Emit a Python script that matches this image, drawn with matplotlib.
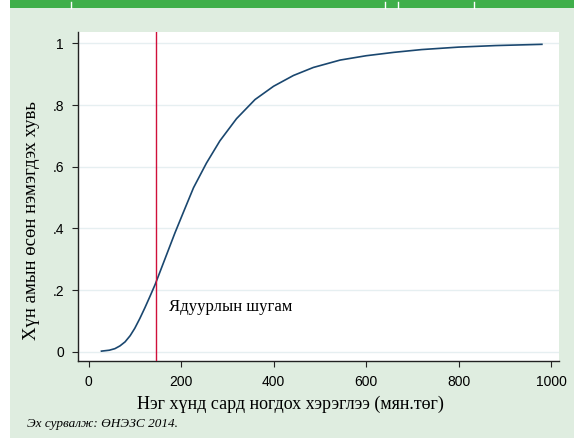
import numpy as np
import matplotlib.pyplot as plt
from matplotlib.patches import Rectangle
from matplotlib.lines import Line2D

# Consumption per person per month (thousand tugrik) and cumulative share
consumption = [28, 45, 57, 68, 79, 90, 100, 111, 122, 133, 144, 165, 187, 205, 227, 255,
               284, 320, 360, 400, 443, 486, 544, 600, 660, 720, 800, 880, 980]
cum_share = [0.002, 0.005, 0.010, 0.019, 0.032, 0.052, 0.076, 0.108, 0.143, 0.180, 0.218,
             0.300, 0.386, 0.452, 0.532, 0.612, 0.684, 0.756, 0.818, 0.861, 0.896, 0.922,
             0.946, 0.960, 0.971, 0.980, 0.988, 0.993, 0.997]
poverty_line = 146

x_ticks = [0, 200, 400, 600, 800, 1000]
y_ticks = [0, 0.2, 0.4, 0.6, 0.8, 1.0]
y_labels = ['0', '.2', '.4', '.6', '.8', '1']

bg = '#dfede0'
serif = ['Liberation Serif', 'DejaVu Serif']
sans = ['Liberation Sans', 'DejaVu Sans']

fig = plt.figure(figsize=(5.74, 4.38), dpi=100)
fig.patch.set_facecolor('white')

# light green panel and top green band (cropped table)
fig.add_artist(Rectangle((10/574, 0), 1 - 10/574, 1 - 8/438, transform=fig.transFigure,
                         facecolor=bg, edgecolor='none', zorder=-10))
fig.add_artist(Rectangle((10/574, 1 - 8/438), 1 - 10/574, 8/438, transform=fig.transFigure,
                         facecolor='#3faf4a', edgecolor='none', zorder=-10))
for xp in [71, 385, 398, 474]:
    fig.add_artist(Line2D([xp/574, xp/574], [1 - 8/438, 1 - 2/438], transform=fig.transFigure,
                          color='white', lw=1))

ax = fig.add_axes([78/574, 1 - 361/438, 481/574, 329/438])
ax.set_facecolor('white')

ax.plot(consumption, cum_share, color='#1a476f', lw=1.2, zorder=3)
ax.axvline(poverty_line, color='#d0103a', lw=1.0, zorder=4)
ax.text(174, 0.146, 'Ядуурлын шугам', family=serif, fontsize=12, va='center', ha='left')

ax.set_xlim(-22.7, 1017)
ax.set_ylim(-0.030, 1.037)
ax.set_xticks(x_ticks)
ax.set_yticks(y_ticks)
ax.set_yticklabels(y_labels)
ax.grid(axis='y', color='#e6eff1', lw=1.0)
ax.set_axisbelow(True)

for s in ['top', 'right']:
    ax.spines[s].set_visible(False)
for s in ['left', 'bottom']:
    ax.spines[s].set_color('#222222')
    ax.spines[s].set_linewidth(1.0)

ax.tick_params(direction='out', length=4, width=0.8, color='#222222', labelsize=10,
               pad=6)
for lbl in ax.get_xticklabels() + ax.get_yticklabels():
    lbl.set_family(sans)

ax.set_xlabel('Нэг хүнд сард ногдох хэрэглээ (мян.төг)', family=serif, fontsize=13)
ax.set_ylabel('Хүн амын өсөн нэмэгдэх хувь', family=serif, fontsize=13.5)
# label centres as placed in the reference (figure pixels)
ax.xaxis.set_label_coords((290 - 78) / 481, -(404 - 361) / 329)
ax.yaxis.set_label_coords(-(78 - 32) / 481, (361 - 221) / 329)
ax.xaxis.label.set_va('center')
ax.yaxis.label.set_va('center')

fig.text(27/574, 1 - 424/438, 'Эх сурвалж: ӨНЭЗС 2014.', family=serif, style='italic',
         fontsize=9.5, va='center', ha='left')

plt.savefig('out.png', dpi=100, facecolor=fig.get_facecolor())
